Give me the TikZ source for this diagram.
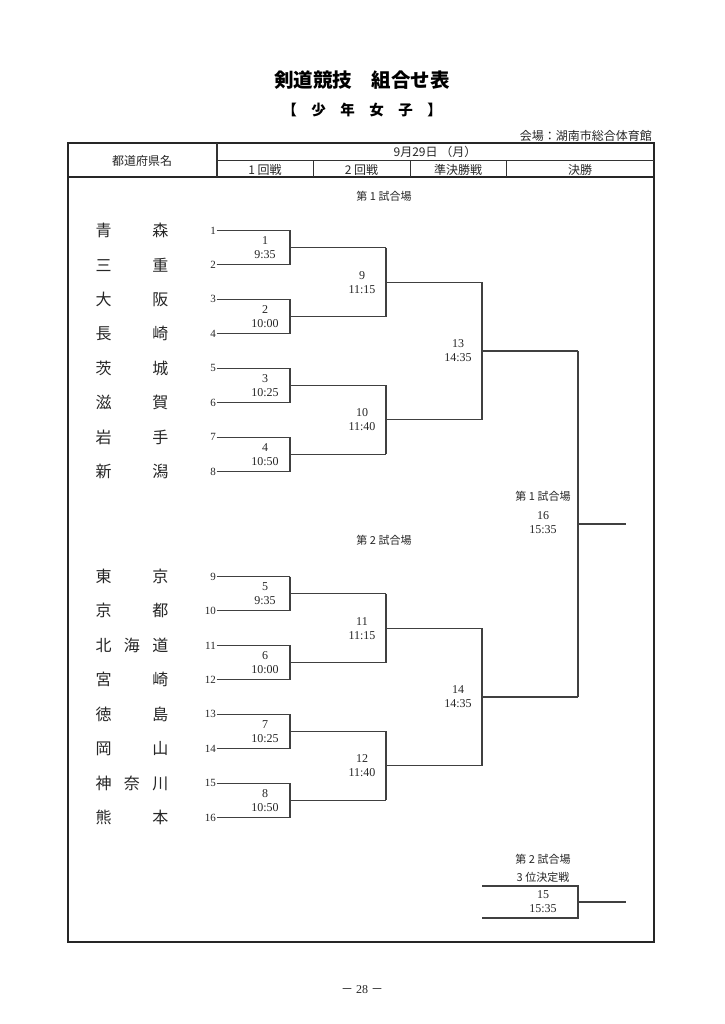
\documentclass[tikz,border=0pt]{standalone}
\usepackage{fontspec}
\setmainfont{Liberation Serif}
\newfontfamily\jp{Noto Sans CJK JP}
\begin{document}
\begin{tikzpicture}[x=1pt,y=-1pt,
  bl/.style={draw=black!75, line width=1.15pt},
  seed/.style={font=\fontsize{11}{11}\selectfont, anchor=east, inner sep=0.5pt, text=black!85},
  mlab/.style={font=\fontsize{12}{14}\selectfont, align=center, inner sep=0pt, text=black!85},
  pname/.style={font=\jp\fontsize{16}{16}\selectfont, inner sep=0pt, text=black!85},
  hdr/.style={font=\jp\fontsize{12}{12}\selectfont, inner sep=0pt, text=black!85},
  venue/.style={font=\jp\fontsize{11}{11}\selectfont, inner sep=0pt, text=black!85},
]
\useasboundingbox[fill=white] (0,0) rectangle (724,1024);

% titles
\node[font=\jp\bfseries\fontsize{19.5}{19.5}\selectfont] (title) at (362,80) {剣道競技　組合せ表};
\node[font=\jp\bfseries\fontsize{14.5}{14.5}\selectfont] (sub) at (362,110) {【\hspace{14.5pt}少\hspace{14.5pt}年\hspace{14.5pt}女\hspace{14.5pt}子\hspace{14.5pt}】};
\node[hdr, anchor=east] (place) at (652,135.5) {会場：湖南市総合体育館};

% frame and header
\draw[line width=2pt, draw=black!85] (68,143.5) rectangle (653.5,942);
\draw[line width=2pt, draw=black!85] (68,177.5) -- (653.5,177.5);
\draw[line width=1.3pt, draw=black!80] (217,143.5) -- (217,177.5);
\draw[line width=1pt, draw=black!80] (217,160.5) -- (653.5,160.5);
\foreach \x in {313,410,506} \draw[line width=1pt, draw=black!80] (\x,160.5) -- (\x,177.5);
\node[hdr] (h0) at (142,161) {都道府県名};
\node[hdr] (hd) at (435,152) {9月29日 （月）};
\node[hdr] (h1) at (265,169.5) {1 回戦};
\node[hdr] (h2) at (361.5,169.5) {2 回戦};
\node[hdr] (h3) at (458,169.5) {準決勝戦};
\node[hdr] (h4) at (580,169.5) {決勝};

% venue labels
\node[venue] (v1) at (384,196) {第 1 試合場};
\node[venue] (v2) at (384,540) {第 2 試合場};

% entrants
\foreach \i/\y/\nm in {
  1/230.5/{青\hfill 森}, 2/264.9/{三\hfill 重}, 3/299.4/{大\hfill 阪}, 4/333.8/{長\hfill 崎},
  5/368.2/{茨\hfill 城}, 6/402.6/{滋\hfill 賀}, 7/437.1/{岩\hfill 手}, 8/471.5/{新\hfill 潟},
  9/576.5/{東\hfill 京}, 10/610.9/{京\hfill 都}, 11/645.4/{北\hfill 海\hfill 道}, 12/679.8/{宮\hfill 崎},
  13/714.2/{徳\hfill 島}, 14/748.6/{岡\hfill 山}, 15/783.1/{神\hfill 奈\hfill 川}, 16/817.5/{熊\hfill 本}} {
  \node[pname] (p\i) at (132,\y) {\makebox[73pt][s]{\nm}};
  \node[seed] (n\i) at (216.5,\y) {\i};
  \coordinate (e\i) at (290,\y);
  \draw[bl] (n\i.east) -- (e\i);
}

% round 1
\foreach \k/\a/\b/\m/\t in {1/1/2/247.7/9:35, 2/3/4/316.6/10:00, 3/5/6/385.4/10:25, 4/7/8/454.3/10:50,
  5/9/10/593.7/9:35, 6/11/12/662.6/10:00, 7/13/14/731.4/10:25, 8/15/16/800.3/10:50} {
  \draw[bl] (e\a) -- (e\b);
  \coordinate (r\k) at (386,\m);
  \draw[bl] (e\a |- r\k) -- (r\k);
  \node[mlab] (L\k) at (265,\m) {\k\\\t};
}

% round 2
\foreach \k/\a/\b/\m/\t in {9/1/2/282.15/11:15, 10/3/4/419.85/11:40, 11/5/6/628.15/11:15, 12/7/8/765.85/11:40} {
  \draw[bl] (r\a) -- (r\b);
  \coordinate (r\k) at (482,\m);
  \draw[bl] (r\a |- r\k) -- (r\k);
  \node[mlab] (L\k) at (362,\m) {\k\\\t};
}

% semifinals
\foreach \k/\a/\b/\m/\t in {13/9/10/351/14:35, 14/11/12/697/14:35} {
  \draw[bl] (r\a) -- (r\b);
  \coordinate (r\k) at (578,\m);
  \draw[bl] (r\a |- r\k) -- (r\k);
  \node[mlab] (L\k) at (458,\m) {\k\\\t};
}

% final
\draw[bl] (r13) -- (r14);
\coordinate (r16) at (626,524);
\draw[bl] (r13 |- r16) -- (r16);
\node[venue] (v3) at (543,496) {第 1 試合場};
\node[mlab] (L16) at (543,523) {16\\15:35};

% third place
\coordinate (t1) at (482,886);
\coordinate (t2) at (578,886);
\coordinate (t3) at (578,918);
\coordinate (t4) at (482,918);
\coordinate (t5) at (626,902);
\draw[bl] (t1) -- (t2) -- (t3) -- (t4);
\draw[bl] (t2 |- t5) -- (t5);
\node[venue] (v4) at (543,859) {第 2 試合場};
\node[venue] (v5) at (543,877) {3 位決定戦};
\node[mlab] (L15) at (543,902) {15\\15:35};

% page number
\node[font=\fontsize{12}{12}\selectfont, text=black!85] (pg) at (362,990) {{\jp －}\ 28\ {\jp －}};
\end{tikzpicture}
\end{document}
